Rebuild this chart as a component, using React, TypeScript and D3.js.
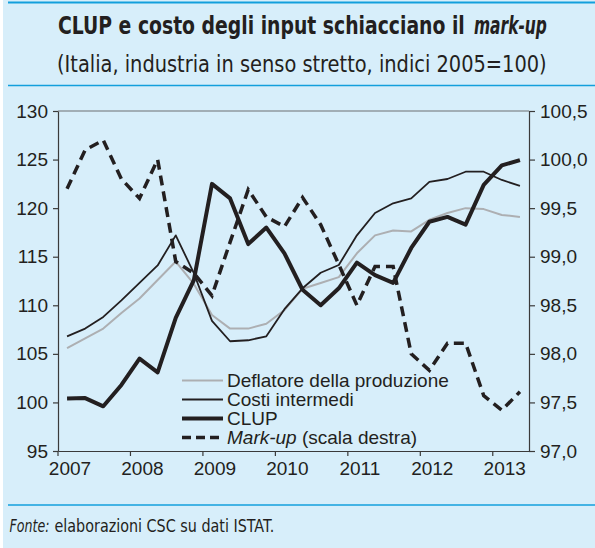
import React, { useRef, useEffect } from 'react';
import * as d3 from 'd3';

// quarterly data 2007T1 - 2013T2
const years = ['2007', '2008', '2009', '2010', '2011', '2012', '2013'];
const quarters = years.flatMap((y) => ['T1', 'T2', 'T3', 'T4'].map((q) => y + q)).slice(0, 26);

const deflatore = [105.6, 106.6, 107.6, 109.2, 110.7, 112.6, 114.5, 112.2, 109.0, 107.6, 107.6, 108.1, 109.5,
  111.7, 112.3, 112.9, 115.35, 117.2, 117.7, 117.6, 118.8, 119.5, 120.0, 119.9, 119.3, 119.1];
const costi = [106.8, 107.6, 108.8, 110.5, 112.3, 114.1, 117.2, 113.3, 108.4, 106.3, 106.4, 106.8, 109.6,
  111.75, 113.35, 114.15, 117.2, 119.5, 120.5, 121.0, 122.7, 123.0, 123.75, 123.75, 122.9, 122.3];
const clup = [100.4, 100.45, 99.6, 101.8, 104.5, 103.1, 108.7, 112.6, 122.5, 121.0, 116.3, 118.0, 115.35,
  111.6, 110.0, 111.75, 114.4, 113.1, 112.3, 115.9, 118.6, 119.1, 118.3, 122.4, 124.4, 124.95];
const markup = [99.7, 100.1, 100.2, 99.8, 99.6, 100.0, 98.95, 98.83, 98.6, 99.15, 99.69, 99.41, 99.31,
  99.61, 99.33, 98.92, 98.5, 98.9, 98.9, 98.0, 97.83, 98.11, 98.11, 97.57, 97.42, 97.61];

const leftTicks = [95, 100, 105, 110, 115, 120, 125, 130];
const rightTicks = [97, 97.5, 98, 98.5, 99, 99.5, 100, 100.5];

const legendItems = [
  { label: 'Deflatore della produzione', color: '#adafb2', width: 2, dash: null },
  { label: 'Costi intermedi', color: '#231f20', width: 1.8, dash: null },
  { label: 'CLUP', color: '#231f20', width: 4, dash: null },
  { label: 'Mark-up', color: '#231f20', width: 3.5, dash: '9,5' },
];

const ink = '#231f20';
const bg = '#d7eefa';
const blue = '#139fdc';
const sans = '"Liberation Sans", Arial, Helvetica, sans-serif';
const narrow = '"Liberation Sans Narrow", "DejaVu Sans Condensed", sans-serif';

const L = 58, R = 529, T = 111, B = 451;

const itFormat = d3.formatLocale({ decimal: ',', thousands: '.', grouping: [3], currency: ['', ''] }).format('.1f');

// text squeezed horizontally to a given width (condensed look)
const FitText = ({ x, y, width, children, ...rest }) => {
  const ref = useRef(null);
  useEffect(() => {
    const el = ref.current;
    el.removeAttribute('transform');
    const w = el.getComputedTextLength();
    const s = w > 0 ? width / w : 1;
    el.setAttribute('transform', `translate(${x},0) scale(${s},1) translate(${-x},0)`);
  }, [x, width]);
  return <text ref={ref} x={x} y={y} {...rest}>{children}</text>;
};

const App = () => {
  const axesRef = useRef(null);

  const x = d3.scaleBand().domain(quarters).range([L, R]);
  const yL = d3.scaleLinear().domain([95, 130]).range([B, T]);
  const yR = d3.scaleLinear().domain([97, 100.5]).range([B, T]);
  const cx = (i) => x(quarters[i]) + x.bandwidth() / 2;

  const lineL = d3.line().x((d, i) => cx(i)).y((d) => yL(d));
  const lineR = d3.line().x((d, i) => cx(i)).y((d) => yR(d));

  useEffect(() => {
    const g = d3.select(axesRef.current);
    g.selectAll('*').remove();

    g.append('g')
      .attr('transform', `translate(${L},0)`)
      .call(d3.axisLeft(yL).tickValues(leftTicks).tickSize(5).tickSizeOuter(0).tickPadding(5).tickFormat(d3.format('d')));

    g.append('g')
      .attr('transform', `translate(${R},0)`)
      .call(d3.axisRight(yR).tickValues(rightTicks).tickSize(6).tickSizeOuter(0).tickPadding(5).tickFormat(itFormat));

    const bottom = g.append('g')
      .attr('transform', `translate(0,${B})`)
      .call(d3.axisBottom(x).tickValues(quarters.filter((q) => q.endsWith('T1'))).tickSize(5).tickSizeOuter(0)
        .tickPadding(6).tickFormat((d) => d.slice(0, 4)));
    bottom.selectAll('.tick line').attr('x1', -x.bandwidth() / 2).attr('x2', -x.bandwidth() / 2);
    bottom.selectAll('.tick text').attr('x', x.bandwidth() * 0.16);

    g.selectAll('text').style('font-family', sans).style('font-size', '19px').attr('fill', ink);
    g.selectAll('path, line').attr('stroke', '#3a3a3a').attr('stroke-width', 1.2);
  }, []);

  return (
    <svg width={595} height={548} style={{ position: 'absolute', left: 0, top: 0 }}>
      <rect x={3} y={0} width={592} height={548} fill={bg} />
      <line x1={8} x2={595} y1={2.5} y2={2.5} stroke={blue} strokeWidth={2} />
      <line x1={8} x2={595} y1={85.5} y2={85.5} stroke={blue} strokeWidth={1.5} />
      <line x1={8} x2={595} y1={505} y2={505} stroke={blue} strokeWidth={1.5} />

      <FitText x={58} y={34} width={407} fontFamily={narrow} fontWeight="bold" fontSize={25} fill={ink}>
        CLUP e costo degli input schiacciano il
      </FitText>
      <FitText x={474} y={34} width={73} fontFamily={narrow} fontWeight="bold" fontStyle="italic" fontSize={25} fill={ink}>
        mark-up
      </FitText>
      <FitText x={57} y={72} width={490} fontFamily={narrow} fontSize={23} fill={ink}>
        (Italia, industria in senso stretto, indici 2005=100)
      </FitText>

      <line x1={L} x2={R} y1={T} y2={T} stroke="#6d6e71" strokeWidth={1.2} />
      <g ref={axesRef} />

      <path d={lineL(deflatore)} fill="none" stroke="#adafb2" strokeWidth={2} strokeLinejoin="round" />
      <path d={lineL(costi)} fill="none" stroke={ink} strokeWidth={1.8} strokeLinejoin="round" />
      <path d={lineL(clup)} fill="none" stroke={ink} strokeWidth={4} strokeLinejoin="round" />
      <path d={lineR(markup)} fill="none" stroke={ink} strokeWidth={3.5} strokeDasharray="10,6" />

      <g fontFamily={sans} fontSize={19} fill={ink}>
        {legendItems.map((item, i) => {
          const yb = 387 + i * 19;
          return (
            <g key={item.label}>
              <line x1={182} x2={223} y1={yb - 6.5} y2={yb - 6.5} stroke={item.color}
                strokeWidth={item.width} strokeDasharray={item.dash || undefined} />
              <text x={227} y={yb}>
                {item.dash ? (
                  <>
                    <tspan fontStyle="italic">{item.label}</tspan> (scala destra)
                  </>
                ) : item.label}
              </text>
            </g>
          );
        })}
      </g>

      <FitText x={9.5} y={532} width={40} fontFamily={narrow} fontStyle="italic" fontSize={18} fill={ink}>
        Fonte:
      </FitText>
      <FitText x={54.5} y={532} width={220} fontFamily={narrow} fontSize={18} fill={ink}>
        elaborazioni CSC su dati ISTAT.
      </FitText>
    </svg>
  );
};

export default App;
